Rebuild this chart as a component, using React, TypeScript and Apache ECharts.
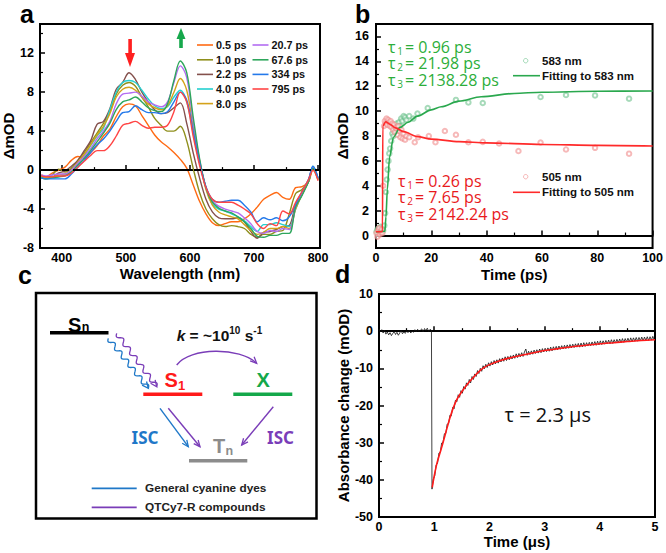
import React, { useEffect, useRef } from "react";
import * as echarts from "echarts";

// ---------- Panel a: transient absorption spectra ----------
const wavelengths = [368, 375, 385, 395, 405, 415, 425, 435, 445, 455, 465, 475, 485, 495, 505, 515, 525, 535, 545, 555, 565, 575, 585, 595, 605, 615, 625, 635, 645, 655, 665, 675, 685, 695, 705, 715, 725, 735, 745, 755, 765, 775, 785, 792, 800];
const delayLabels = ["0.5 ps", "1.0 ps", "2.2 ps", "4.0 ps", "8.0 ps", "20.7 ps", "67.6 ps", "334 ps", "795 ps"];
const s05 = [-0.5, -0.7, -0.3, 0.0, 0.3, 1.0, 1.4, 1.2, 1.8, 2.5, 3.5, 4.2, 5.5, 6.5, 6.8, 6.6, 5.6, 4.6, 3.6, 2.9, 2.4, 1.8, 1.1, 0.2, -1.5, -3.2, -4.5, -5.4, -5.7, -5.5, -5.3, -5.3, -5.0, -4.5, -3.8, -3.0, -2.6, -2.3, -2.8, -3.0, -1.8, -1.7, -1.2, 0.0, -1.0];
const s10 = [-0.8, -0.9, -0.5, 0.1, -0.2, 0.2, 1.0, 1.8, 2.8, 3.8, 4.8, 6.0, 7.8, 8.7, 9.0, 8.6, 7.5, 6.5, 5.3, 4.6, 4.0, 4.0, 4.5, 3.0, 0.2, -2.3, -4.0, -5.0, -5.6, -5.8, -5.7, -5.8, -6.0, -6.6, -6.9, -6.6, -6.6, -6.3, -6.2, -4.5, -2.4, -2.0, -1.0, 0.2, -0.8];
const s22 = [-0.6, -0.7, -0.7, -0.3, -0.1, 0.4, 1.0, 2.0, 3.0, 4.7, 5.0, 6.3, 8.3, 9.0, 10.0, 9.3, 8.0, 7.0, 6.2, 5.8, 5.9, 6.4, 6.9, 4.8, 1.8, -0.8, -3.0, -4.3, -4.9, -5.0, -5.0, -4.9, -5.3, -6.3, -7.0, -6.4, -6.3, -6.1, -5.8, -5.7, -3.5, -2.3, -1.2, 0.3, -0.9];
const s40 = [-0.7, -0.8, -0.8, -0.7, -0.5, -0.1, 0.6, 1.5, 2.5, 3.5, 4.3, 6.2, 8.0, 9.0, 9.2, 9.0, 8.2, 7.3, 6.6, 6.3, 6.5, 7.5, 8.2, 7.0, 3.8, 0.8, -1.8, -3.5, -4.0, -4.2, -4.5, -4.8, -5.2, -5.8, -6.3, -5.6, -5.6, -5.4, -5.6, -5.8, -4.0, -2.5, -1.2, 0.4, -0.8];
const s80 = [-0.6, -0.8, -0.7, -0.5, -0.4, 0.0, 0.8, 1.6, 2.6, 3.6, 4.5, 5.8, 7.5, 8.3, 8.5, 8.2, 7.5, 6.8, 6.4, 6.2, 6.6, 8.0, 9.4, 8.2, 4.5, 1.0, -2.0, -3.6, -4.3, -4.6, -4.8, -5.0, -5.6, -6.2, -6.6, -6.4, -6.0, -6.0, -5.8, -6.0, -4.0, -2.5, -1.2, 0.3, -0.9];
const s207 = [-0.5, -0.6, -0.5, -0.4, -0.4, 0.0, 0.7, 1.4, 2.2, 3.2, 4.0, 5.0, 6.8, 7.8, 7.9, 8.0, 7.6, 7.0, 6.7, 6.5, 7.0, 9.0, 10.7, 9.5, 5.0, 1.0, -1.8, -3.2, -3.7, -4.0, -4.2, -4.4, -4.9, -5.5, -6.3, -6.5, -6.2, -6.3, -6.0, -6.1, -3.8, -2.3, -1.0, 0.3, -0.9];
const s676 = [-0.8, -0.9, -0.8, -0.7, -0.6, -0.2, 0.5, 1.2, 2.0, 2.9, 3.8, 4.8, 6.2, 7.0, 7.2, 7.5, 7.0, 6.4, 6.1, 6.0, 6.8, 9.2, 11.2, 10.0, 5.5, 1.2, -1.8, -3.3, -3.9, -4.2, -4.4, -4.8, -5.3, -6.0, -6.8, -6.9, -6.7, -6.7, -6.5, -6.5, -3.8, -2.6, -1.2, 0.2, -1.0];
const s334 = [-0.8, -0.9, -0.9, -0.9, -0.9, -0.4, 0.3, 1.0, 1.8, 2.6, 3.2, 4.0, 5.0, 5.9, 6.0, 6.6, 6.2, 5.9, 5.9, 5.8, 6.0, 7.0, 8.0, 7.2, 4.0, 0.8, -1.7, -3.0, -3.3, -3.2, -3.1, -3.1, -3.6, -4.3, -5.3, -4.9, -5.1, -4.9, -5.2, -4.8, -3.5, -2.2, -1.0, 0.4, -0.8];
const s795 = [-0.6, -0.7, -0.7, -0.6, -0.6, -0.3, 0.3, 0.9, 1.5, 2.0, 2.0, 2.5, 3.5, 4.6, 4.8, 5.0, 4.6, 4.3, 4.4, 4.4, 4.6, 6.0, 8.0, 7.0, 3.5, 0.5, -1.8, -3.0, -3.3, -3.3, -3.3, -3.6, -4.0, -4.5, -5.5, -6.0, -5.5, -5.7, -4.2, -4.5, -3.3, -2.2, -1.0, 0.0, -1.1];
const waveTicks = [400, 500, 600, 700, 800];
const waveMinor = [450, 550, 650, 750];
const odTicksA = [-8, -4, 0, 4, 8, 12];
const odMinorA = [-6, -2, 2, 6, 10, 14];

// ---------- Panel b: kinetics ----------
const t583 = [0.2, 0.5, 0.8, 1.1, 1.4, 1.7, 2.0, 2.3, 2.6, 3.0, 3.3, 3.6, 3.9, 4.2, 4.5, 4.8, 5.1, 5.5, 5.9, 6.3, 6.7, 7.1, 7.5, 7.9, 8.3, 8.7, 9.1, 9.5, 10, 10.5, 11, 12, 13.5, 15, 18.7, 28.9, 33.4, 38.6, 59.5, 68.7, 79.2, 91.5];
const v583 = [0.3, 0.5, 0.2, 0.6, 0.4, 0.7, 0.3, 0.5, 0.4, 0.8, 1.8, 3.5, 4.5, 5.3, 6.0, 6.6, 7.0, 7.6, 8.2, 8.0, 8.6, 8.4, 9.0, 8.7, 9.1, 8.8, 9.4, 9.2, 9.6, 9.5, 9.3, 9.6, 9.4, 9.8, 10.25, 10.9, 10.7, 10.65, 11.13, 11.29, 11.26, 11.0];
const t505 = [0.2, 0.5, 0.8, 1.1, 1.4, 1.7, 2.0, 2.3, 2.6, 2.9, 3.2, 3.5, 3.8, 4.1, 4.4, 4.7, 5.0, 5.3, 5.6, 5.9, 6.2, 6.5, 6.8, 7.1, 7.4, 7.7, 8.0, 8.4, 8.8, 9.2, 9.6, 10.0, 10.5, 11, 12, 14, 15.2, 19.1, 21.5, 24.9, 28.9, 33.4, 38.6, 44.5, 51.5, 59.5, 68.7, 79.2, 91.5];
const v505 = [0.2, -0.1, 0.4, 0.6, 0.1, 0.3, 0.5, 0.2, 4.0, 8.8, 9.2, 9.0, 9.4, 8.9, 9.3, 9.1, 8.8, 9.2, 8.7, 9.0, 8.5, 8.9, 8.3, 8.7, 8.6, 8.1, 8.8, 8.4, 7.9, 8.5, 7.8, 8.2, 7.7, 8.0, 7.9, 7.5, 7.9, 8.0, 7.5, 8.4, 8.1, 7.5, 7.53, 7.4, 6.79, 7.48, 6.92, 7.05, 6.58];
const fit583T = [0, 3.2, 3.6, 4.1, 4.9, 6.3, 8.7, 11.6, 15, 20, 23.6, 30, 38, 50, 60, 80, 100];
const fit583V = [0.3, 0.35, 1.5, 3.7, 6.3, 7.9, 8.7, 9.1, 9.6, 10.1, 10.35, 10.8, 11.15, 11.42, 11.52, 11.6, 11.62];
const fit505T = [0, 2.35, 2.45, 3.5, 5, 7, 10, 15, 20, 30, 40, 60, 80, 100];
const fit505V = [0.3, 0.3, 8.8, 9.15, 8.95, 8.65, 8.35, 7.95, 7.75, 7.55, 7.45, 7.32, 7.25, 7.2];
const tau583 = [["1", "0.96 ps"], ["2", "21.98 ps"], ["3", "2138.28 ps"]];
const tau505 = [["1", "0.26 ps"], ["2", "7.65 ps"], ["3", "2142.24 ps"]];
const timeTicksB = [0, 20, 40, 60, 80, 100];
const timeMinorB = [10, 30, 50, 70, 90];
const odTicksB = [0, 2, 4, 6, 8, 10, 12, 14, 16];
const odMinorB = [1, 3, 5, 7, 9, 11, 13, 15];

// ---------- Panel d: nanosecond transient absorption ----------
const traceStep = 0.025;
const preStart = 0;
const preTrace = [0.6, -0.2, 0.4, -0.5, 0.3, -0.8, -0.2, -1.0, -0.4, -1.2, -0.6, -0.1, -0.9, -0.3, -1.1, -0.5, 0.2, -0.7, -0.2, -0.6, 0.1, -0.4, 0.3, -0.5, 0.0, -0.3, 0.4, -0.2, 0.5, -0.1, 0.3, 0.6, -0.2, 0.7, 0.1, 0.8, -0.1, 0.5, 0.2];
const decayStart = 0.96;
const decayTrace = [-42.5, -39.8, -38.9, -36.0, -35.6, -32.8, -32.6, -30.1, -29.9, -27.6,
  -27.5, -25.0, -24.9, -22.6, -22.8, -20.5, -20.9, -18.6, -19.0, -17.1,
  -17.8, -16.0, -16.7, -14.9, -15.6, -13.9, -14.6, -13.0, -13.9, -12.2,
  -13.0, -11.5, -12.2, -10.6, -11.4, -10.0, -10.8, -9.3, -10.1, -8.9,
  -9.8, -8.5, -9.4, -8.2, -9.1, -7.9, -8.8, -7.7, -8.6, -7.4,
  -8.3, -7.2, -8.1, -6.9, -7.9, -6.8, -7.7, -6.6, -7.5, -6.4,
  -7.3, -6.1, -7.1, -6.0, -6.9, -5.8, -6.8, -5.6, -4.8, -6.5,
  -5.4, -6.3, -5.3, -6.2, -5.1, -6.0, -5.0, -5.9, -4.8, -5.8,
  -4.7, -5.6, -4.6, -5.5, -4.5, -5.4, -4.3, -5.3, -4.2, -5.1,
  -4.1, -5.0, -4.0, -4.9, -3.9, -4.8, -3.8, -4.7, -3.7, -4.6,
  -3.6, -4.5, -3.5, -4.4, -3.4, -4.3, -3.3, -4.3, -3.2, -4.2,
  -3.1, -4.1, -3.1, -4.0, -3.0, -3.9, -2.9, -3.8, -2.8, -3.8,
  -2.7, -3.7, -2.6, -3.6, -2.6, -3.5, -2.5, -3.4, -2.4, -3.4,
  -2.3, -3.3, -2.3, -3.2, -2.2, -3.1, -2.1, -3.1, -2.0, -3.0,
  -2.0, -2.9, -1.9, -2.9, -1.8, -2.8, -1.8, -2.7, -1.7, -2.7,
  -1.7, -2.6, -1.6, -2.6, -1.6, -2.5, -1.5, -2.5, -1.5, -2.4,
  -1.4, -2.3];
const fitDT = [0.965, 1.0, 1.05, 1.1, 1.15, 1.2, 1.3, 1.4, 1.5, 1.6, 1.7, 1.8, 1.9, 2.0, 2.2, 2.4, 2.6, 2.8, 3.0, 3.25, 3.5, 3.75, 4.0, 4.25, 4.5, 4.75, 5.0];
const fitDV = [-42, -39, -35.5, -33, -30.5, -27.8, -22.6, -18.7, -16.3, -14.3, -12.6, -11.0, -9.8, -9.0, -7.9, -7.1, -6.4, -5.8, -5.2, -4.7, -4.2, -3.8, -3.4, -3.1, -2.8, -2.5, -2.3];
const timeTicksD = [0, 1, 2, 3, 4, 5];
const timeMinorD = [0.5, 1.5, 2.5, 3.5, 4.5];
const odTicksD = [-50, -40, -30, -20, -10, 0, 10];
const odMinorD = [-45, -35, -25, -15, -5, 5];

// ---------- styles ----------
const delayColors = ["#ff6a13", "#8f8f1c", "#84504c", "#25d0d0", "#d4a21a", "#b36cf2", "#2ea65c", "#2479ea", "#ff4545"];
const ARIAL = "'Liberation Sans', Arial, sans-serif";
const OPEN = "'Open Sans', 'Noto Sans', sans-serif";
const NOTO = "'Noto Sans', 'Open Sans', sans-serif";
const tickFont = { fontFamily: ARIAL, fontWeight: "bold" as const, fontSize: 12.5, color: "#000" };
const nameFont = { fontFamily: ARIAL, fontWeight: "bold" as const, fontSize: 15, color: "#000" };

function mainAxis(gridIndex: number, min: number, max: number, values: number[], position: string, margin: number, name: string, nameGap: number) {
  return {
    type: "value", gridIndex, min, max, position,
    name, nameLocation: "middle", nameGap, nameTextStyle: nameFont,
    axisLine: { show: true, lineStyle: { color: "#000", width: 2 } },
    axisTick: { show: true, inside: true, length: 5, customValues: values, lineStyle: { color: "#000", width: 1.5 } },
    axisLabel: { customValues: values, margin, ...tickFont },
    splitLine: { show: false },
  };
}
function minorAxis(gridIndex: number, min: number, max: number, values: number[], position: string) {
  return {
    type: "value", gridIndex, min, max, position,
    axisLine: { show: false },
    axisTick: { show: true, inside: true, length: 3, customValues: values, lineStyle: { color: "#000", width: 1.2 } },
    axisLabel: { show: false },
    splitLine: { show: false },
  };
}
const zip = (xs: number[], ys: number[]) => xs.map((x, i) => [x, ys[i]]);

function txt(x: number, y: number, text: string, size: number, color: string, opts: any = {}) {
  return {
    type: "text", x, y, z: 100,
    style: {
      text, fontSize: size, fill: color, lineHeight: Math.round(size),
      fontFamily: opts.family || NOTO, fontWeight: opts.weight || "normal", fontStyle: opts.italic ? "italic" : "normal",
      align: opts.align || "left", verticalAlign: "middle",
    },
  };
}
function tauLines(g: any[], x: number, y0: number, rows: string[][], color: string) {
  rows.forEach(([s, v], i) => {
    const y = y0 + i * 16.6;
    g.push(txt(x, y, "τ", 16, color, { family: OPEN }));
    g.push(txt(x + 9.3, y + 4, s, 10, color, { family: OPEN }));
    g.push(txt(x + 17, y, "= " + v, 16, color, { family: OPEN }));
  });
}
function seg(x1: number, y1: number, x2: number, y2: number, color: string, w: number) {
  return { type: "line", z: 100, shape: { x1, y1, x2, y2 }, style: { stroke: color, lineWidth: w } };
}
function head(x: number, y: number, ang: number, size: number, color: string, w = 1.3) {
  const a1 = ang + Math.PI - 0.42, a2 = ang + Math.PI + 0.42;
  return {
    type: "polyline", z: 100,
    shape: { points: [[x + size * Math.cos(a1), y + size * Math.sin(a1)], [x, y], [x + size * Math.cos(a2), y + size * Math.sin(a2)]] },
    style: { stroke: color, fill: null, lineWidth: w },
  };
}
function arrow(x1: number, y1: number, x2: number, y2: number, color: string) {
  return [seg(x1, y1, x2, y2, color, 1.4), head(x2, y2, Math.atan2(y2 - y1, x2 - x1), 7, color)];
}
function wavyArrow(x1: number, y1: number, x2: number, y2: number, color: string) {
  const dx = x2 - x1, dy = y2 - y1, len = Math.hypot(dx, dy);
  const nx = -dy / len, ny = dx / len;
  const pts: number[][] = [];
  for (let i = 0; i <= 80; i++) {
    const s = i / 80;
    const off = 2.3 * Math.sin(s * 6 * 2 * Math.PI);
    pts.push([x1 + dx * s + nx * off, y1 + dy * s + ny * off]);
  }
  return [
    { type: "polyline", z: 100, shape: { points: pts }, style: { stroke: color, fill: null, lineWidth: 1.3 } },
    head(x2, y2, Math.atan2(dy, dx), 7, color),
  ];
}

function buildOption() {
  const spectra = [s05, s10, s22, s40, s80, s207, s676, s334, s795];
  const seriesA: any[] = spectra.map((vals, k) => ({
    name: delayLabels[k], type: "line", xAxisIndex: 0, yAxisIndex: 0,
    data: zip(wavelengths, vals), showSymbol: false, smooth: 0.35,
    lineStyle: { width: 1.4, color: delayColors[k] }, itemStyle: { color: delayColors[k] }, z: 3,
  }));
  seriesA[0].markLine = {
    silent: true, symbol: "none", label: { show: false },
    lineStyle: { type: [7, 4], color: "#000", width: 2.2 },
    data: [{ yAxis: 0 }],
  };

  const green = "#2aa84e", red = "#ff2a2a";
  const seriesB: any[] = [
    { name: "583 nm", type: "scatter", xAxisIndex: 2, yAxisIndex: 2, data: zip(t583, v583), symbol: "emptyCircle", symbolSize: 4.5, itemStyle: { color: "#6cc28c", opacity: 0.6, borderWidth: 0.9 }, z: 2 },
    { name: "505 nm", type: "scatter", xAxisIndex: 2, yAxisIndex: 2, data: zip(t505, v505), symbol: "emptyCircle", symbolSize: 4.5, itemStyle: { color: "#f08a8a", opacity: 0.6, borderWidth: 0.9 }, z: 2 },
    { name: "Fitting to 583 nm", type: "line", xAxisIndex: 2, yAxisIndex: 2, data: zip(fit583T, fit583V), showSymbol: false, smooth: 0.3, smoothMonotone: "x", lineStyle: { color: green, width: 1.6 }, itemStyle: { color: green }, z: 3 },
    { name: "Fitting to 505 nm", type: "line", xAxisIndex: 2, yAxisIndex: 2, data: zip(fit505T, fit505V), showSymbol: false, smooth: 0.3, smoothMonotone: "x", lineStyle: { color: red, width: 1.6 }, itemStyle: { color: red }, z: 4 },
  ];

  const trace = [
    ...preTrace.map((v, i) => [preStart + i * traceStep, v]),
    ...decayTrace.map((v, i) => [decayStart + i * traceStep, v]),
  ];
  const seriesD: any[] = [
    { name: "Signal", type: "line", xAxisIndex: 4, yAxisIndex: 4, data: trace, showSymbol: false, lineStyle: { color: "#111", width: 0.8 }, z: 2 },
    { name: "Fit", type: "line", xAxisIndex: 4, yAxisIndex: 4, data: zip(fitDT, fitDV), showSymbol: false, smooth: 0.3, lineStyle: { color: "#ff1a1a", width: 1.6 }, z: 3 },
  ];

  // ---- graphics ----
  const g: any[] = [];
  // panel letters
  g.push(txt(20, 14, "a", 25, "#000", { family: ARIAL, weight: "bold" }));
  g.push(txt(355, 14, "b", 25, "#000", { family: ARIAL, weight: "bold" }));
  g.push(txt(18, 275, "c", 25, "#000", { family: ARIAL, weight: "bold" }));
  g.push(txt(335, 274, "d", 25, "#000", { family: ARIAL, weight: "bold" }));

  // panel a arrows
  g.push({ type: "rect", z: 100, shape: { x: 128.3, y: 39, width: 3.6, height: 16 }, style: { fill: "#ff2020" } });
  g.push({ type: "polygon", z: 100, shape: { points: [[125, 53], [135, 53], [130, 67]] }, style: { fill: "#ff2020" } });
  g.push({ type: "rect", z: 100, shape: { x: 179.2, y: 37, width: 3.6, height: 11 }, style: { fill: "#16a84c" } });
  g.push({ type: "polygon", z: 100, shape: { points: [[176.5, 39], [185.5, 39], [181, 28]] }, style: { fill: "#16a84c" } });

  // panel a legend
  const rowsA = [45, 59.8, 74.4, 89, 103.6];
  delayLabels.forEach((lab, k) => {
    const col = k < 5 ? 0 : 1;
    const row = k < 5 ? k : k - 5;
    const lx = col === 0 ? 197 : 252.5;
    g.push(seg(lx, rowsA[row], lx + 16, rowsA[row], delayColors[k], 1.6));
    g.push(txt(lx + 19, rowsA[row], lab, 10.8, "#111", { family: ARIAL, weight: "bold" }));
  });

  // panel b texts
  tauLines(g, 388, 46.5, tau583, "#2cae3a");
  tauLines(g, 398, 180.5, tau505, "#e8191c");
  // panel b legend
  g.push({ type: "circle", z: 100, shape: { cx: 525.7, cy: 60.7, r: 2.2 }, style: { stroke: "#6cc28c", fill: null, lineWidth: 0.9, opacity: 0.7 } });
  g.push(txt(542, 60.7, "583 nm", 11.5, "#111", { family: ARIAL, weight: "bold" }));
  g.push(seg(513, 75.7, 540, 75.7, green, 1.6));
  g.push(txt(542, 75.7, "Fitting to 583 nm", 11.5, "#111", { family: ARIAL, weight: "bold" }));
  g.push({ type: "circle", z: 100, shape: { cx: 525.7, cy: 176.7, r: 2.2 }, style: { stroke: "#f08a8a", fill: null, lineWidth: 0.9, opacity: 0.7 } });
  g.push(txt(542, 176.7, "505 nm", 11.5, "#111", { family: ARIAL, weight: "bold" }));
  g.push(seg(513, 192.3, 540, 192.3, red, 1.6));
  g.push(txt(542, 192.3, "Fitting to 505 nm", 11.5, "#111", { family: ARIAL, weight: "bold" }));

  // panel d text
  g.push(txt(504.5, 414, "τ = 2.3 μs", 20, "#111", { family: OPEN }));

  // panel c diagram
  const blue = "#1f78c8", purple = "#7a3db8";
  g.push({ type: "rect", z: 100, shape: { x: 36, y: 293, width: 280.5, height: 225.5 }, style: { fill: null, stroke: "#000", lineWidth: 2.5 } });
  g.push(seg(50, 332.7, 108.5, 332.7, "#000", 3.4));
  g.push(seg(143.3, 394.3, 202.3, 394.3, "#ff1a1a", 3.4));
  g.push(seg(233.3, 394.3, 292.3, 394.3, "#14a84a", 3.4));
  g.push(seg(189, 460.7, 247.3, 460.7, "#8c8c8c", 3.4));
  g.push(txt(68, 324.5, "S", 20, "#000", { weight: "bold", family: ARIAL }));
  g.push(txt(81.8, 327, "n", 12.5, "#000", { weight: "bold", family: ARIAL }));
  g.push(txt(164.5, 379.5, "S", 20, "#ff1a1a", { weight: "bold", family: ARIAL }));
  g.push(txt(178, 385.5, "1", 13, "#ff1a1a", { weight: "bold", family: ARIAL }));
  g.push(txt(256.5, 379.5, "X", 20, "#14a84a", { weight: "bold", family: ARIAL }));
  g.push(txt(213, 446, "T", 20, "#8c8c8c", { weight: "bold", family: ARIAL }));
  g.push(txt(225.4, 450.5, "n", 12.5, "#8c8c8c", { weight: "bold", family: ARIAL }));
  g.push({
    type: "text", x: 176.7, y: 325.5, z: 100,
    style: {
      text: "{k|k}{m| = ~10}{p|10}{m| s}{p|-1}", align: "left", verticalAlign: "top",
      rich: {
        k: { fontSize: 15.5, fontFamily: ARIAL, fontWeight: "bold", fontStyle: "italic", fill: "#111", lineHeight: 20 },
        m: { fontSize: 15.5, fontFamily: ARIAL, fontWeight: "bold", fill: "#111", lineHeight: 20 },
        p: { fontSize: 10, fontFamily: ARIAL, fontWeight: "bold", fill: "#111", lineHeight: 8, verticalAlign: "top" },
      },
    },
  });
  g.push(...wavyArrow(108.3, 338.3, 148.3, 388.3, blue));
  g.push(...wavyArrow(116.7, 333.3, 156.7, 386.7, purple));
  g.push({ type: "bezierCurve", z: 100, shape: { x1: 176.7, y1: 365, cpx1: 190, cpy1: 347, cpx2: 240, cpy2: 347, x2: 256.7, y2: 363.3 }, style: { stroke: purple, fill: null, lineWidth: 1.4 } });
  g.push(head(256.7, 363.3, Math.atan2(363.3 - 347, 256.7 - 240), 7, purple));
  g.push(...arrow(160, 408.3, 188.3, 446.7, blue));
  g.push(...arrow(168.3, 408.3, 200, 446.7, purple));
  g.push(...arrow(273.3, 406.7, 241.7, 445, purple));
  g.push(txt(145, 437.5, "ISC", 17, blue, { weight: "bold", align: "center" }));
  g.push(txt(280.5, 437.5, "ISC", 17, purple, { weight: "bold", align: "center" }));
  g.push(seg(91.7, 488.3, 136.7, 488.3, blue, 1.8));
  g.push(seg(91.7, 507.3, 136.7, 507.3, purple, 1.8));
  g.push(txt(145, 488.3, "General cyanine dyes", 11.8, "#222", { weight: "bold", family: ARIAL }));
  g.push(txt(145, 507.3, "QTCy7-R compounds", 11.8, "#222", { weight: "bold", family: ARIAL }));

  const gridStyle = { show: true, borderColor: "#000", borderWidth: 2, backgroundColor: "transparent" };
  return {
    animation: false,
    backgroundColor: "#fff",
    grid: [
      { left: 40, top: 24, width: 280, height: 224, ...gridStyle },
      { left: 376, top: 24, width: 279, height: 224, ...gridStyle },
      { left: 379, top: 294, width: 276, height: 223, ...gridStyle },
    ],
    xAxis: [
      mainAxis(0, 366, 803, waveTicks, "bottom", 3, "Wavelength (nm)", 18),
      minorAxis(0, 366, 803, waveMinor, "bottom"),
      mainAxis(1, 0, 100, timeTicksB, "bottom", 3, "Time (ps)", 18.5),
      minorAxis(1, 0, 100, timeMinorB, "bottom"),
      mainAxis(2, 0, 5, timeTicksD, "bottom", 3, "Time (μs)", 16.5),
      minorAxis(2, 0, 5, timeMinorD, "bottom"),
    ],
    yAxis: [
      mainAxis(0, -8, 15, odTicksA, "left", 6, "ΔmOD", 21),
      minorAxis(0, -8, 15, odMinorA, "left"),
      mainAxis(1, -1, 17, odTicksB, "left", 7, "ΔmOD", 26),
      minorAxis(1, -1, 17, odMinorB, "left"),
      mainAxis(2, -50, 10, odTicksD, "left", 6, "Absorbance change (mOD)", 27),
      minorAxis(2, -50, 10, odMinorD, "left"),
    ],
    series: [...seriesA, ...seriesB, ...seriesD],
    graphic: { elements: g },
  };
}

export default function App() {
  const ref = useRef<HTMLDivElement>(null);
  useEffect(() => {
    if (!ref.current) return;
    const chart = echarts.init(ref.current, undefined, { renderer: "svg" });
    chart.setOption(buildOption() as any);
    return () => chart.dispose();
  }, []);
  return (
    <div
      ref={ref}
      style={{ position: "fixed", left: 0, top: 0, width: 666, height: 553, background: "#fff" }}
    />
  );
}
